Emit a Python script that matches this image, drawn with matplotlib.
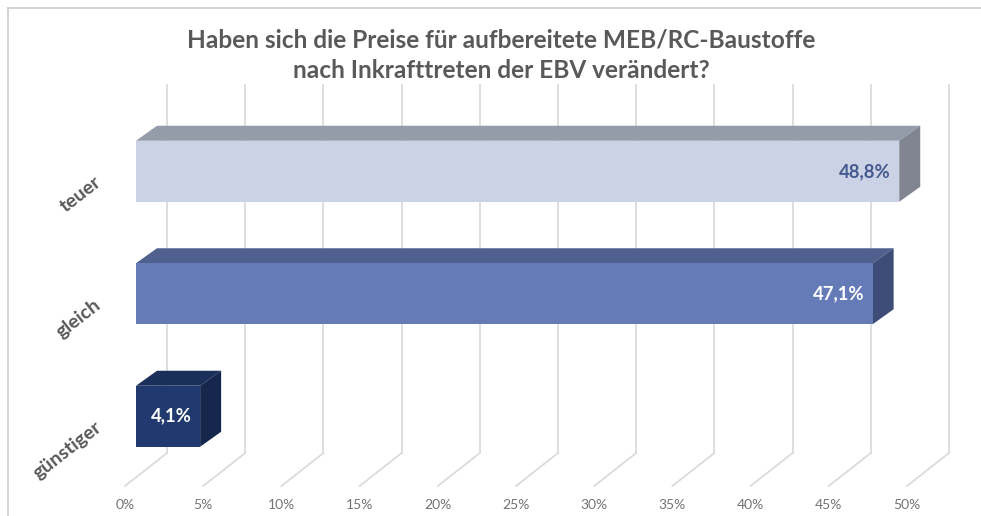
import matplotlib
matplotlib.use("Agg")
import matplotlib.pyplot as plt
from matplotlib.patches import Polygon, Rectangle
from matplotlib.lines import Line2D

categories = ["teuer", "gleich", "günstiger"]
values = [48.8, 47.1, 4.1]
value_labels = ["48,8%", "47,1%", "4,1%"]
ticks = [0, 5, 10, 15, 20, 25, 30, 35, 40, 45, 50]
tick_labels = [f"{t}%" for t in ticks]
title = "Haben sich die Preise für aufbereitete MEB/RC-Baustoffe\nnach Inkrafttreten der EBV verändert?"

front_colors = ["#CBD2E5", "#647BB8", "#203A70"]
top_colors = ["#949CA9", "#4F5F8E", "#1B2F5B"]
side_colors = ["#80858F", "#3E4C78", "#15274C"]
label_colors = ["#44598F", "#FFFFFF", "#FFFFFF"]

W, H = 981, 516
fig = plt.figure(figsize=(W / 100, H / 100), dpi=100, facecolor="white")
plt.rcParams["font.family"] = ["Lato", "DejaVu Sans"]

# axes: x in percent (0..50 on the front plane), y in category index
x0, xw = 136, 50 * 15.64
y_top, y_bot = 110.0, 477.5  # pixel range for y=-0.5..2.5
ax = fig.add_axes([x0 / W, 1 - y_bot / H, xw / W, (y_bot - y_top) / H])
ax.set_xlim(0, 50)
ax.set_ylim(2.5, -0.5)
ax.axis("off")

pxx = 50 / xw
pxy = 3 / (y_bot - y_top)
bar_h = 61 * pxy
dx, dy = 21 * pxx, 15 * pxy

# gridlines on the back wall + floor
wall_dx, wall_top, wall_bot = 31 * pxx, (85 - y_top) * pxy - 0.5, (453 - y_top) * pxy - 0.5
floor_dx, floor_dy = -42 * pxx, 33 * pxy
grid = "#DBDBDB"
for t, lab in zip(ticks, tick_labels):
    xb = t + wall_dx
    ax.add_line(Line2D([xb, xb], [wall_top, wall_bot], color=grid, lw=1.3, clip_on=False, zorder=1))
    ax.add_line(Line2D([xb, xb + floor_dx], [wall_bot, wall_bot + floor_dy], color=grid, lw=1.3, clip_on=False, zorder=1))
    ax.text(xb + floor_dx, wall_bot + floor_dy + 19 * pxy, lab, ha="center", va="center",
            fontsize=10, color="#737373", clip_on=False)

for i, (v, lab) in enumerate(zip(values, value_labels)):
    t, b = i - bar_h / 2, i + bar_h / 2
    ax.add_patch(Polygon([(0, t), (dx, t - dy), (v + dx, t - dy), (v, t)], fc=top_colors[i], ec="none", zorder=3, clip_on=False))
    ax.add_patch(Polygon([(v, t), (v + dx, t - dy), (v + dx, b - dy), (v, b)], fc=side_colors[i], ec="none", zorder=3, clip_on=False))
    ax.add_patch(Rectangle((0, t), v, bar_h, fc=front_colors[i], ec="none", zorder=4))
    ax.annotate(lab, (v, i), xytext=(-6, 0), textcoords="offset points", ha="right", va="center",
                fontsize=13.3, fontweight="bold", color=label_colors[i], zorder=5)
    ax.annotate(categories[i], (0, i), xytext=(-37 * .72, -9 * .72), textcoords="offset points",
                ha="right", va="center", rotation=38, rotation_mode="anchor", fontsize=14, fontweight="bold",
                color="#595959", annotation_clip=False)

fig.text(501 / W, 1 - 55 / H, title, ha="center", va="center", fontsize=17.6,
         fontweight="bold", color="#595959", linespacing=1.42)

frame = "#D0D0D0"
fig.add_artist(Line2D([7.5 / W, 7.5 / W], [0, 1 - 8 / H], color=frame, lw=1.3))
fig.add_artist(Line2D([7.5 / W, 1], [1 - 8 / H, 1 - 8 / H], color=frame, lw=1.3))

fig.savefig("out.png", dpi=100)
